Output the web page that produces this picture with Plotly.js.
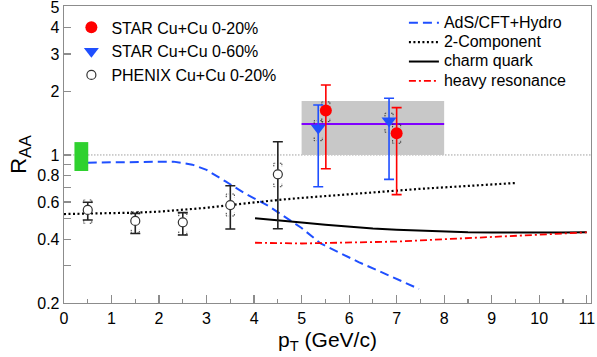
<!DOCTYPE html>
<html>
<head>
<meta charset="utf-8">
<script src="https://cdn.plot.ly/plotly-3.0.1.min.js"></script>
<style>html,body{margin:0;padding:0;background:#fff;}#chart{width:597px;height:357px;}</style>
</head>
<body>
<div id="chart"></div>
<script>
// ---- data ----
// STAR Cu+Cu 0-20%
var star20X = [5.51, 7.0];
var star20Y = [1.62, 1.266];
var star20Hi = [2.14, 1.673];
var star20Lo = [0.861, 0.650];
var star20SysHi = [1.78, 1.397];
var star20SysLo = [1.437, 1.136];
// STAR Cu+Cu 0-60%
var star60X = [5.35, 6.84];
var star60Y = [1.34, 1.45];
var star60Hi = [1.72, 1.853];
var star60Lo = [0.708, 0.767];
var star60SysHi = [1.452, 1.574];
var star60SysLo = [1.168, 1.28];
// PHENIX Cu+Cu 0-20%
var phenixX = [0.5, 1.5, 2.5, 3.5, 4.5];
var phenixY = [0.55, 0.488, 0.481, 0.58, 0.81];
var phenixHi = [0.598, 0.530, 0.534, 0.716, 1.155];
var phenixLo = [0.493, 0.426, 0.419, 0.447, 0.448];
var phenixSysHi = [0.613, 0.541, 0.532, 0.654, 0.914];
var phenixSysLo = [0.476, 0.428, 0.420, 0.515, 0.708];
// model curves
var adsX = [0.5, 1.0, 1.5, 2.0, 2.3, 2.7, 3.0, 3.4, 3.8, 4.3, 4.7, 5.0, 5.4, 5.8, 6.2, 6.6, 7.0, 7.47];
var adsY = [0.92, 0.922, 0.928, 0.932, 0.93, 0.90, 0.85, 0.75, 0.66, 0.575, 0.50, 0.452, 0.382, 0.345, 0.312, 0.285, 0.26, 0.233];
var twoCompX = [0.0, 0.5, 1.0, 1.5, 2.0, 2.5, 3.0, 3.5, 4.0, 4.5, 5.0, 5.5, 6.0, 6.5, 7.0, 7.5, 8.0, 8.5, 9.0, 9.5];
var twoCompY = [0.526, 0.528, 0.531, 0.534, 0.540, 0.550, 0.563, 0.580, 0.598, 0.613, 0.627, 0.640, 0.655, 0.669, 0.681, 0.692, 0.703, 0.714, 0.725, 0.737];
var charmX = [4.02, 4.5, 5.0, 5.5, 6.0, 6.5, 7.0, 7.5, 8.0, 8.5, 9.0, 9.5, 10.0, 10.5, 11.0];
var charmY = [0.502, 0.493, 0.480, 0.468, 0.458, 0.450, 0.444, 0.439, 0.435, 0.432, 0.431, 0.430, 0.430, 0.431, 0.432];
var resX = [4.02, 4.5, 5.0, 5.5, 6.0, 6.5, 7.0, 7.5, 8.0, 8.5, 9.0, 9.5, 10.0, 10.5, 11.0];
var resY = [0.385, 0.383, 0.382, 0.384, 0.386, 0.387, 0.390, 0.395, 0.400, 0.405, 0.411, 0.416, 0.421, 0.426, 0.431];
// bands
var normBoxX = [0.22, 0.51];
var normBoxY = [0.84, 1.15];
var avgBoxX = [5.0, 8.0];
var avgBoxY = [1.0, 1.8];
var avgValue = 1.40;
var unityValue = 1.0;
// ticks
var yTickVals = [0.2, 0.3, 0.4, 0.5, 0.6, 0.7, 0.8, 0.9, 1, 2, 3, 4, 5];
var yTickText = ['0.2', '', '0.4', '', '0.6', '', '0.8', '', '1', '2', '3', '4', '5'];
var xTickVals = [0, 1, 2, 3, 4, 5, 6, 7, 8, 9, 10, 11];
var xTickText = ['0', '1', '2', '3', '4', '5', '6', '7', '8', '9', '10', '11'];

// ---- helpers ----
function diff(a, b) { return a.map(function (v, i) { return v - b[i]; }); }
function brackets(xs, hi, lo, w, f) {
  var bx = [], by = [];
  for (var i = 0; i < xs.length; i++) {
    var x = xs[i];
    bx.push(x - w, x - w, x - w / 2, null, x + w / 2, x + w, x + w, null);
    by.push(hi[i] / f, hi[i], hi[i], null, hi[i], hi[i], hi[i] / f, null);
    bx.push(x - w, x - w, x - w / 2, null, x + w / 2, x + w, x + w, null);
    by.push(lo[i] * f, lo[i], lo[i], null, lo[i], lo[i], lo[i] * f, null);
  }
  return {x: bx, y: by};
}
function big(t) { return '<span style="font-size:16px">' + t + '</span>'; }

var FONT = 'Liberation Sans, Arial, sans-serif';
var traces = [];

function curve(name, x, y, color, dash, width) {
  return {x: x, y: y, type: 'scatter', mode: 'lines', name: big(name), legend: 'legend2',
    line: {color: color, dash: dash, width: width}, hoverinfo: 'skip'};
}
traces.push(curve('AdS/CFT+Hydro', adsX, adsY, '#1f4fff', '9px,5px', 2));
traces.push(curve('2-Component', twoCompX, twoCompY, '#000000', '2px,2.5px', 2.2));
traces.push(curve('charm quark', charmX, charmY, '#000000', 'solid', 2));
traces.push(curve('heavy resonance', resX, resY, '#ff0000', '7px,3px,2px,3px', 1.8));

// average line
traces.push({x: avgBoxX, y: [avgValue, avgValue], type: 'scatter', mode: 'lines', showlegend: false,
  line: {color: '#8000ff', width: 2}, hoverinfo: 'skip'});

// systematic brackets
var bS20 = brackets(star20X, star20SysHi, star20SysLo, 0.085, 1.035);
var bS60 = brackets(star60X, star60SysHi, star60SysLo, 0.085, 1.035);
var bPh = brackets(phenixX, phenixSysHi, phenixSysLo, 0.085, 1.035);
[bS20, bS60, bPh].forEach(function (b) {
  traces.push({x: b.x, y: b.y, type: 'scatter', mode: 'lines', showlegend: false,
    line: {color: '#333333', width: 1, dash: '1.5px,1px'}, hoverinfo: 'skip', connectgaps: false});
});

// data points
traces.push({x: star20X, y: star20Y, type: 'scatter', mode: 'markers', name: 'STAR Cu+Cu 0-20%',
  legend: 'legend', legendgroup: 'a',
  marker: {symbol: 'circle', size: 12, color: '#ff0000'},
  error_y: {type: 'data', symmetric: false, array: diff(star20Hi, star20Y), arrayminus: diff(star20Y, star20Lo),
    color: '#ff0000', thickness: 1.6, width: 5}});
traces.push({x: star60X, y: star60Y, type: 'scatter', mode: 'markers', name: 'STAR Cu+Cu 0-60%',
  legend: 'legend', legendgroup: 'b',
  marker: {symbol: 'triangle-down', size: 13, color: '#1f4fff'},
  error_y: {type: 'data', symmetric: false, array: diff(star60Hi, star60Y), arrayminus: diff(star60Y, star60Lo),
    color: '#1f4fff', thickness: 1.6, width: 5}});
traces.push({x: phenixX, y: phenixY, type: 'scatter', mode: 'markers', name: 'PHENIX Cu+Cu 0-20%',
  legend: 'legend', legendgroup: 'c',
  marker: {symbol: 'circle', size: 9, color: '#ffffff', line: {color: '#333333', width: 1.2}},
  error_y: {type: 'data', symmetric: false, array: diff(phenixHi, phenixY), arrayminus: diff(phenixY, phenixLo),
    color: '#222222', thickness: 1.6, width: 5}});

var shapes = [
  {type: 'rect', xref: 'x', yref: 'y', x0: avgBoxX[0], x1: avgBoxX[1], y0: avgBoxY[0], y1: avgBoxY[1],
    fillcolor: '#c8c8c8', line: {width: 0}, layer: 'below'},
  {type: 'rect', xref: 'x', yref: 'y', x0: normBoxX[0], x1: normBoxX[1], y0: normBoxY[0], y1: normBoxY[1],
    fillcolor: '#2fd12f', line: {width: 0}, layer: 'above'},
  {type: 'line', xref: 'paper', yref: 'y', x0: 0, x1: 1, y0: unityValue, y1: unityValue,
    line: {color: '#a0a0a0', width: 1, dash: '1.5px,1.5px'}, layer: 'below'}
];

var layout = {
  width: 597, height: 357,
  margin: {l: 64, r: 6, t: 6, b: 54},
  paper_bgcolor: '#ffffff', plot_bgcolor: '#ffffff',
  font: {family: FONT, size: 16, color: '#000'},
  showlegend: true,
  xaxis: {
    range: [0, 11.09], showgrid: false, zeroline: false,
    showline: true, linecolor: '#8c8c8c', linewidth: 1.3, mirror: true,
    ticks: 'inside', ticklen: 8, tickwidth: 1.2, tickcolor: '#8c8c8c',
    tickvals: xTickVals, ticktext: xTickText, ticklabeloverflow: 'allow',
    tickfont: {family: FONT, size: 16, color: '#000'},
    minor: {dtick: 0.5, ticks: 'inside', ticklen: 4, tickcolor: '#8c8c8c', tickwidth: 1.2, showgrid: false},
    title: {text: 'p<sub>T</sub> (GeV/c)', font: {family: FONT, size: 21, color: '#000'}, standoff: 6}
  },
  yaxis: {
    type: 'log', range: [Math.log10(0.2), Math.log10(5.05)], showgrid: false, zeroline: false,
    showline: true, linecolor: '#8c8c8c', linewidth: 1.3, mirror: true,
    ticks: 'inside', ticklen: 7, tickwidth: 1.2, tickcolor: '#8c8c8c',
    tickvals: yTickVals, ticktext: yTickText, ticklabeloverflow: 'allow',
    tickfont: {family: FONT, size: 16, color: '#000'},
    title: {text: 'R<sub><span style="font-size:17px">AA</span></sub>', font: {family: FONT, size: 22, color: '#000'}, standoff: 4}
  },
  legend: {x: 0.014, y: 0.985, xanchor: 'left', yanchor: 'top', bgcolor: 'rgba(0,0,0,0)',
    font: {family: FONT, size: 16, color: '#000'}, tracegroupgap: 3, traceorder: 'normal'},
  legend2: {x: 0.645, y: 0.993, xanchor: 'left', yanchor: 'top', bgcolor: 'rgba(0,0,0,0)',
    font: {family: FONT, size: 12.6, color: '#000'}, traceorder: 'normal'},
  shapes: shapes
};

Plotly.newPlot('chart', traces, layout, {displayModeBar: false, staticPlot: true});
</script>
</body>
</html>
